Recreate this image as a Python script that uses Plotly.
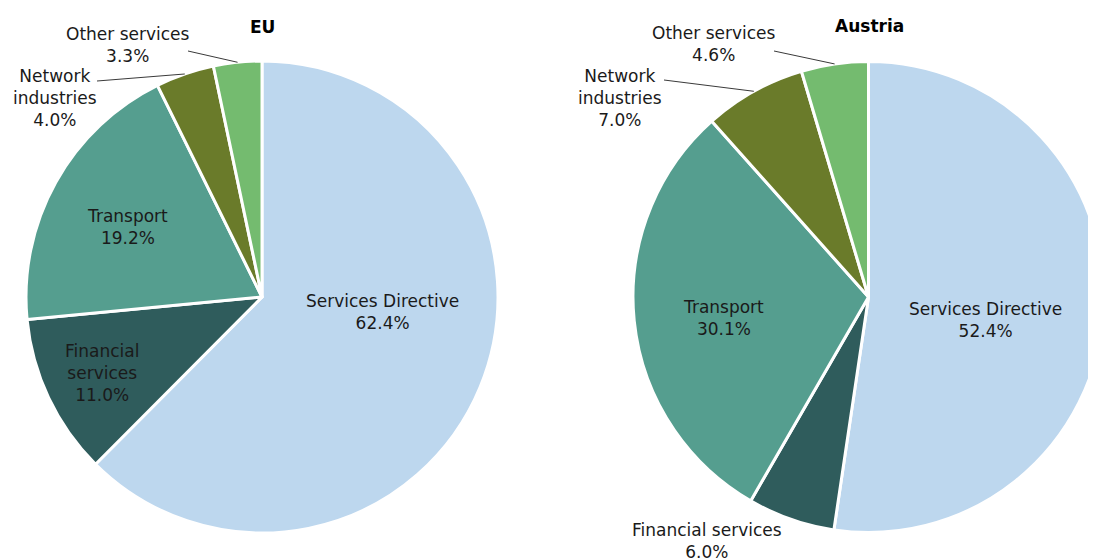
import math
import plotly.graph_objects as go

# ---------------- data ----------------
categories = ["Services Directive", "Financial services", "Transport",
              "Network industries", "Other services"]
eu_values = [62.4, 11.0, 19.2, 4.0, 3.3]
at_values = [52.4, 6.0, 30.1, 7.0, 4.6]
titles = ["EU", "Austria"]

# label texts as wrapped on the chart
eu_label_text = ["Services Directive", "Financial<br>services", "Transport",
                 "Network<br>industries", "Other services"]
at_label_text = ["Services Directive", "Financial services", "Transport",
                 "Network<br>industries", "Other services"]

# ---------------- style / layout ----------------
colors = ["#BDD7EE", "#2F5C5C", "#559E8F", "#6A7B2A", "#74BB6F"]
W, H = 1096, 560
OFF = 8  # page body margin
FONT = "DejaVu Sans"
TXT = "#1a1a1a"

# pie domains in page pixels (x0, x1, y0, y1) measured from top-left
eu_dom = (26, 498, 61, 533)
at_dom = (633, 1104, 61, 533)
# label centres (page px)
eu_label_pos = [(382, 312), (102, 373), (127, 227), (55, 98), (128, 45)]
at_label_pos = [(985, 320), (707, 541), (723, 318), (620, 98), (714, 44)]
# leader-line start points (page px)
eu_leader = [None, None, None, (97, 81), (188, 51)]
at_leader = [None, None, None, (664, 80), (774, 51)]
title_pos = [(262, 27), (869, 26)]


def px2paper(x, y):
    return (x - OFF) / W, 1 - (y - OFF) / H


def domain(d):
    x0, x1, y0, y1 = d
    return dict(x=[(x0 - OFF) / W, min(1, (x1 - OFF) / W)],
                y=[1 - (y1 - OFF) / H, 1 - (y0 - OFF) / H])


def edge_points(values, d):
    x0, x1, y0, y1 = d
    cx, cy = (x0 + x1) / 2, (y0 + y1) / 2
    r = min(x1 - x0, y1 - y0) / 2
    tot = sum(values)
    pts, cum = [], 0.0
    for v in values:
        mid = (cum + v / 2) / tot * 2 * math.pi
        pts.append((cx + r * math.sin(mid), cy - r * math.cos(mid)))
        cum += v
    return pts


fig = go.Figure()
for vals, d in [(eu_values, eu_dom), (at_values, at_dom)]:
    fig.add_trace(go.Pie(
        labels=categories, values=vals, sort=False, direction="clockwise",
        rotation=0, textinfo="none", hoverinfo="label+percent",
        marker=dict(colors=colors, line=dict(color="white", width=3)),
        domain=domain(d), showlegend=False,
    ))

annotations, shapes = [], []
for vals, texts, pos, lead, d in [
        (eu_values, eu_label_text, eu_label_pos, eu_leader, eu_dom),
        (at_values, at_label_text, at_label_pos, at_leader, at_dom)]:
    edges = edge_points(vals, d)
    for v, t, p, l, e in zip(vals, texts, pos, lead, edges):
        x, y = px2paper(*p)
        annotations.append(dict(
            text=f"{t}<br>{v:.1f}%", x=x, y=y, xref="paper", yref="paper",
            xanchor="center", yanchor="middle", showarrow=False,
            font=dict(family=FONT, size=17, color=TXT)))
        if l is not None:
            sx, sy = px2paper(*l)
            ex, ey = px2paper(*e)
            shapes.append(dict(type="line", xref="paper", yref="paper",
                               x0=sx, y0=sy, x1=ex, y1=ey,
                               line=dict(color="#3a3a3a", width=1)))

for t, p in zip(titles, title_pos):
    x, y = px2paper(*p)
    annotations.append(dict(
        text=f"<b>{t}</b>", x=x, y=y, xref="paper", yref="paper",
        xanchor="center", yanchor="middle", showarrow=False,
        font=dict(family="DejaVu Sans", size=17, color="#000000")))

fig.update_layout(
    width=W, height=H, margin=dict(l=0, r=0, t=0, b=0),
    paper_bgcolor="white", plot_bgcolor="white",
    annotations=annotations, shapes=shapes,
)
fig.write_html("out.html")
